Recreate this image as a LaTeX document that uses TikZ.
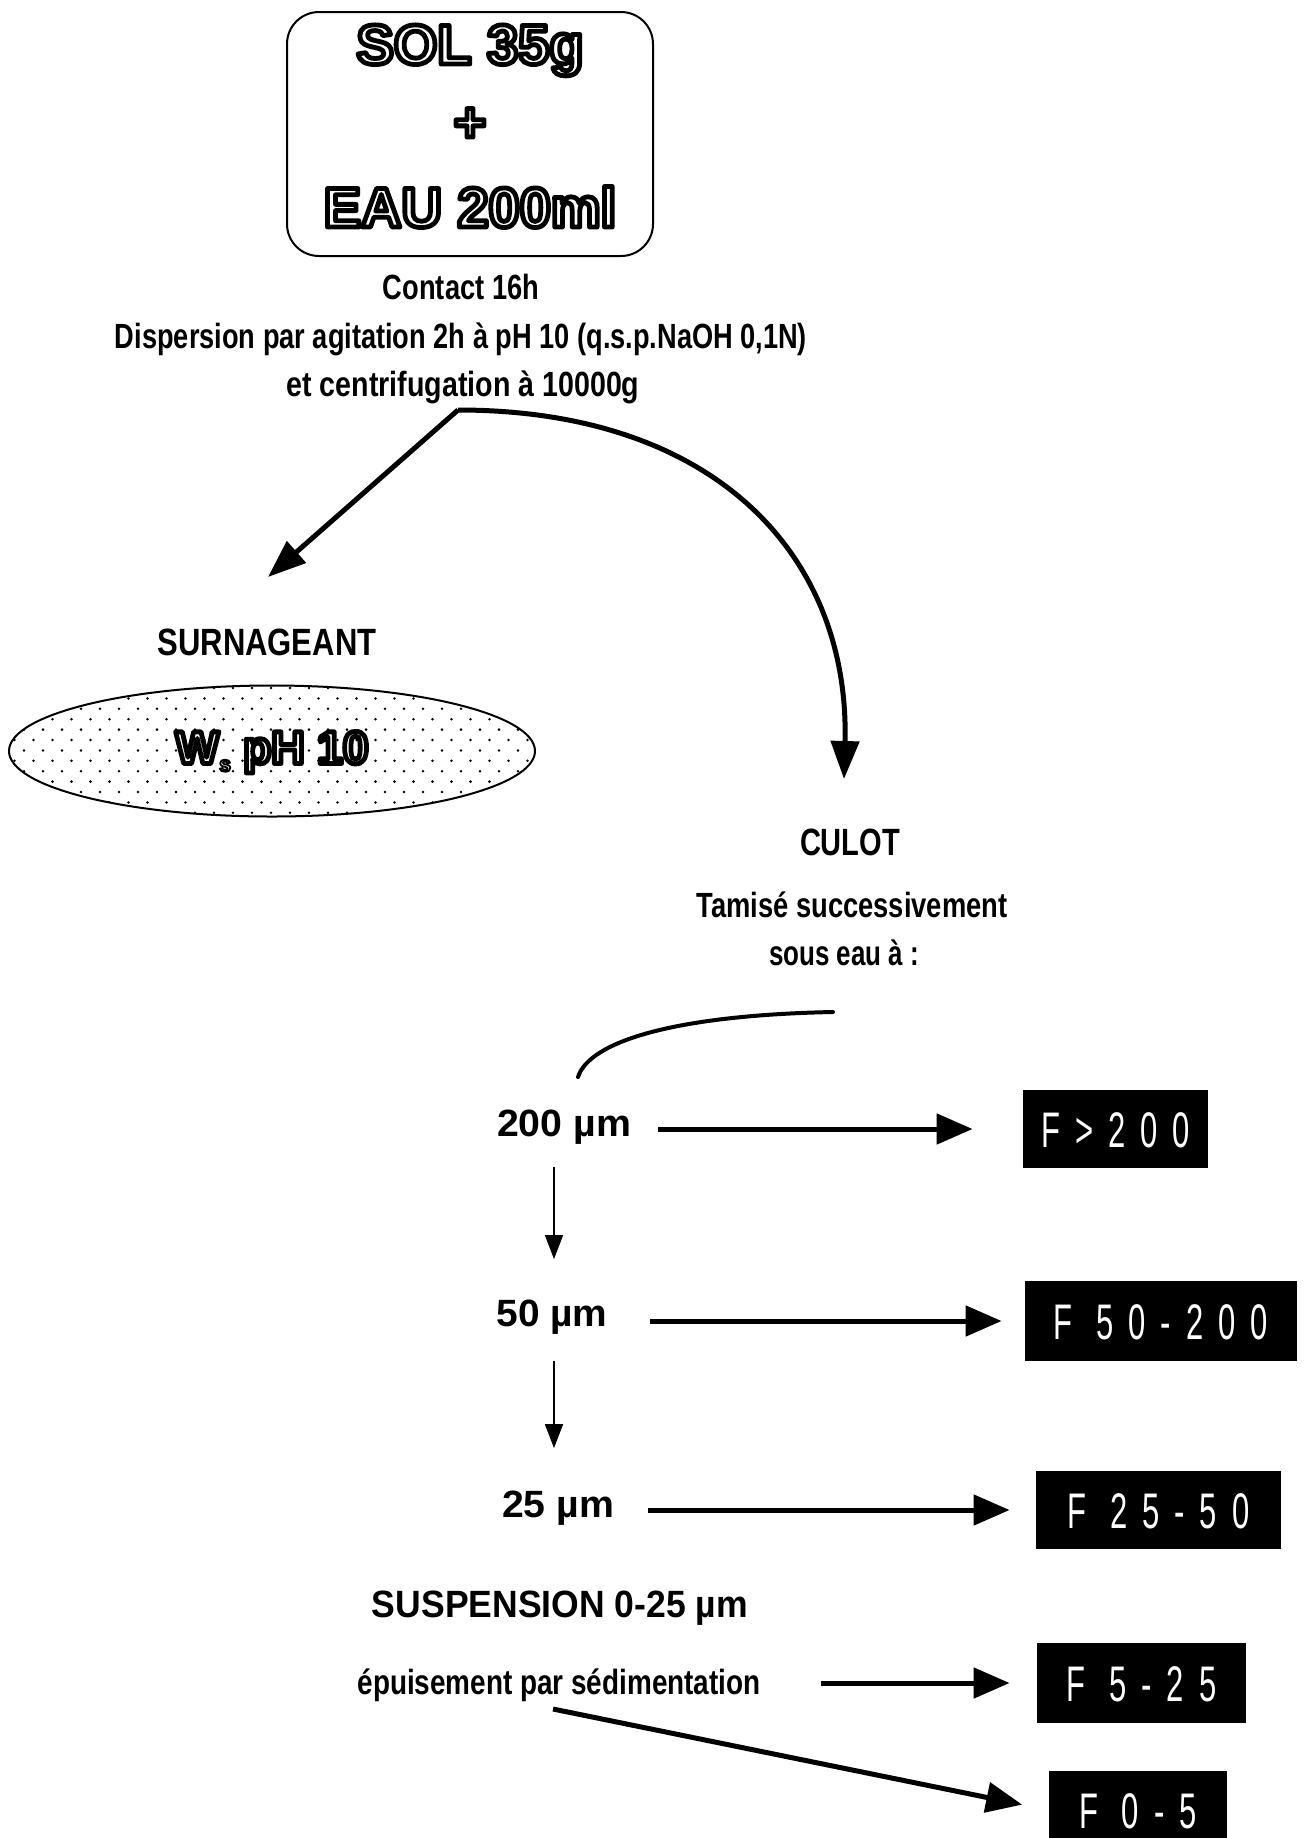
\documentclass[tikz,border=0pt]{standalone}
\usepackage{fontspec}
\usepackage{graphicx}
\setmainfont{Liberation Sans}
\newfontfamily\boxfont{Liberation Sans}[FakeStretch=0.62,LetterSpace=30]
\usetikzlibrary{arrows.meta,shapes.geometric}
\newcommand\fw[2]{\resizebox{#1}{\height}{#2}}
% outlined text: white fill, thick black stroke (single copy of the text)
\newcommand\olt[1]{{\color{white}\special{pdf:literal direct 0 G 2.4 w 1 j 2 Tr}#1\special{pdf:literal direct 0 Tr 0.4 w 0 j}}}
\newcommand\thinstroke[1]{\special{pdf:literal direct 0.9 w}#1\special{pdf:literal direct 2.4 w}}
\tikzset{
 txt/.style={inner sep=0pt, text height=12.5pt, text depth=0pt, font=\fontsize{17.5}{20}\selectfont\bfseries},
 bigtxt/.style={inner sep=0pt, text height=13.5pt, text depth=0pt, font=\fontsize{19}{22}\selectfont\bfseries},
 oltxt/.style={inner sep=0pt, text height=20pt, text depth=0pt, font=\fontsize{28}{32}\selectfont\bfseries},
 fbox/.style={fill=black, text=white, inner sep=0pt, text height=18pt, text depth=0pt, font=\boxfont\fontsize{25}{28}\selectfont},
 bigarrow/.style={line width=2.5pt, -{Triangle[length=19pt,width=14pt]}},
 harrow/.style={line width=2.5pt, -{Triangle[length=18pt,width=15pt]}},
 thinarrow/.style={line width=0.8pt, -{Triangle[length=12pt,width=9pt]}},
}
\begin{document}
\begin{tikzpicture}[x=0.5pt,y=-0.5pt]
\useasboundingbox (0,0) rectangle (1308,1838);
% top box
\node[draw, rounded corners=16pt, line width=1pt, minimum width=183pt, minimum height=122pt] (sol) at (470,134) {};
\node[oltxt] (sol1) at (470,44) {\olt{SOL 35g}};
\node[inner sep=0pt, font=\fontsize{28}{32}\selectfont\bfseries] (plus) at (470,125) {\olt{+}};
\node[oltxt] (eau) at (470,207) {\olt{EAU 200ml}};
% texts under box
\node[txt] (contact) at (461,287) {\fw{78pt}{Contact 16h}};
\node[txt] (disp) at (461,336) {\fw{346pt}{Dispersion par agitation 2h à pH 10 (q.s.p.NaOH 0,1N)}};
\node[txt] (centr) at (463,384) {\fw{176.5pt}{et centrifugation à 10000g}};
\coordinate (split) at (458,410);
\coordinate (tipL) at (268,577);
\coordinate (tipR) at (844,779);
\draw[bigarrow] (split) -- (tipL);
\draw[bigarrow] (split) .. controls (720,410) and (850,560) .. (tipR);
% surnageant
\node[bigtxt] (surn) at (267,642) {\fw{109.5pt}{SURNAGEANT}};
\begin{scope}
\clip (272,751) ellipse [x radius=263, y radius=65.5];
\foreach \r in {0,...,13}{
  \foreach \c in {0,...,28}{
    \fill ({\c*19+mod(\r,2)*9.5+5},{688+\r*10.4}) circle[radius=1.4];
  }
}
\end{scope}
\node[draw, ellipse, line width=1pt, minimum width=263pt, minimum height=65.5pt, inner sep=0pt] (ell) at (272,751) {};
\node[inner sep=0pt, text height=16.5pt, text depth=0pt, font=\fontsize{23}{26}\selectfont\bfseries] (elltxt) at (272,747) {\olt{W\thinstroke{\raisebox{-4pt}{\fontsize{11}{11}\selectfont s}}\hspace{6pt}pH 10}};
% culot
\node[bigtxt] (culot) at (850,842) {\fw{50pt}{CULOT}};
\node[txt] (tamis) at (852,905) {\fw{155.5pt}{Tamisé successivement}};
\node[txt] (sous) at (844,953) {\fw{75pt}{sous eau à :}};
\coordinate (sieveA) at (833,1012);
\coordinate (sieveB) at (578,1077);
\draw[line width=2pt, line cap=round] (sieveA) .. controls (680,1015) and (590,1040) .. (sieveB);
% sieves
\node[bigtxt] (n200) at (564,1123) {\fw{67pt}{200 µm}};
\node[bigtxt] (n50) at (552,1313) {\fw{55.5pt}{50 µm}};
\node[bigtxt] (n25) at (558,1504) {\fw{56pt}{25 µm}};
\node[bigtxt] (susp) at (560,1604) {\fw{188pt}{SUSPENSION 0-25 µm}};
\node[txt] (epuis) at (559,1682) {\fw{201.5pt}{épuisement par sédimentation}};
% fraction boxes
\node[fbox, minimum width=92.5pt, minimum height=39pt] (f200) at (1115.5,1129) {F>200};
\node[fbox, minimum width=136pt, minimum height=40pt] (f50) at (1161,1321) {F 50-200};
\node[fbox, minimum width=122.5pt, minimum height=39pt] (f25) at (1158.5,1510) {F 25-50};
\node[fbox, minimum width=104.5pt, minimum height=40pt] (f525) at (1141.5,1683) {F 5-25};
\node[fbox, minimum width=89pt, minimum height=39pt] (f05) at (1138,1810) {F 0-5};
% arrows
\draw[harrow, shorten <=13.5pt, shorten >=25pt] (n200.east |- f200.west) -- (f200.west);
\draw[harrow, shorten <=21pt, shorten >=11.5pt] (n50.east |- f50.west) -- (f50.west);
\draw[harrow, shorten <=17pt, shorten >=13pt] (n25.east |- f25.west) -- (f25.west);
\draw[harrow, shorten <=30pt, shorten >=13.5pt] (epuis.east |- f525.west) -- (f525.west);
\coordinate (dstart) at (553,1709);
\draw[harrow, shorten >=13.5pt] (dstart) -- (f05.west);
\draw[thinarrow, shorten <=15pt, shorten >=20pt] ([xshift=-5pt]n200.south) -- ([xshift=-5pt]n200.south |- n50.north);
\draw[thinarrow, shorten <=17pt, shorten >=21pt] ([xshift=1pt]n50.south) -- ([xshift=1pt]n50.south |- n25.north);
\end{tikzpicture}
\end{document}
